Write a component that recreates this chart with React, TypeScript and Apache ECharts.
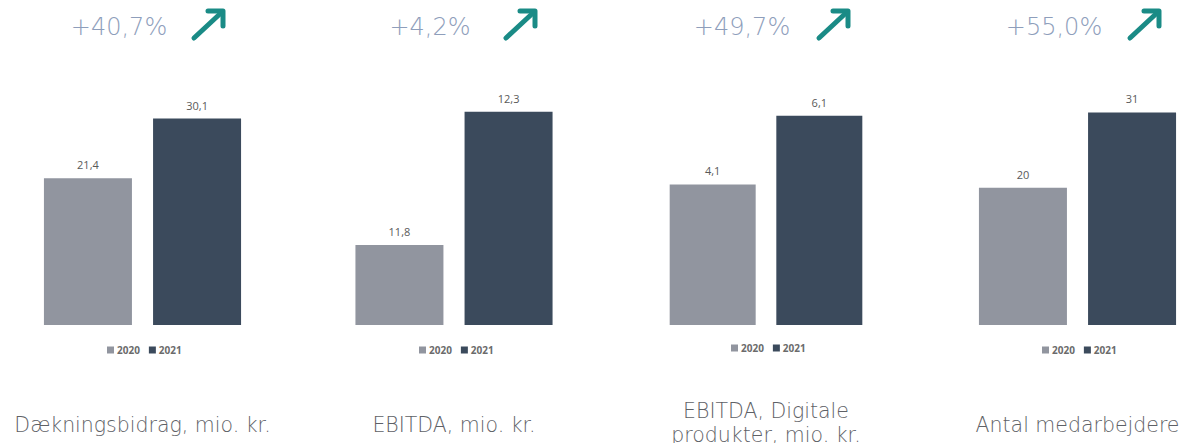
import React, { useEffect, useRef } from "react";
import * as echarts from "echarts";

const years = ["2020", "2021"];
const panelTitles = [
  "Dækningsbidrag, mio. kr.",
  "EBITDA, mio. kr.",
  "EBITDA, Digitale\nprodukter, mio. kr.",
  "Antal medarbejdere",
];
const changeLabels = ["+40,7%", "+4,2%", "+49,7%", "+55,0%"];
const values2020 = [21.4, 11.8, 4.1, 20];
const values2021 = [30.1, 12.3, 6.1, 31];
const axisMin = [0, 11.5, 0, 0];
const axisMax = [35, 12.4, 7, 35];

const panelCenters = [142.5, 454, 766, 1077.5];
const barWidths = [88, 88, 86, 88];
const pctCenters = [119, 430, 742, 1054];
const arrowLeft = [193, 505, 818, 1129];
const legendLeft = [107, 419, 731, 1042];
const legendTop = [345, 345, 343, 345];

const COLOR_2020 = "#91959F";
const COLOR_2021 = "#3B4A5C";
const TEAL = "#1A8B86";
const PCT_COLOR = "#8E9EBB";
const TEXT_COLOR = "#5E6166";
const LIGHT_FONT = "'DejaVu Sans', sans-serif";

export default function App() {
  const ref = useRef<HTMLDivElement>(null);

  useEffect(() => {
    if (!ref.current) return;
    const chart = echarts.init(ref.current, undefined, { renderer: "svg" });

    const fmt = (p: any) => String(p.value).replace(".", ",");

    const grids = panelCenters.map((c) => ({
      left: c - 110,
      width: 220,
      top: 85,
      height: 240,
    }));
    const xAxes = panelCenters.map((_, i) => ({
      type: "category",
      gridIndex: i,
      data: [""],
      show: false,
    }));
    const yAxes = panelCenters.map((_, i) => ({
      type: "value",
      gridIndex: i,
      min: axisMin[i],
      max: axisMax[i],
      show: false,
      splitLine: { show: false },
    }));

    const series: any[] = [];
    panelCenters.forEach((_, i) => {
      [values2020, values2021].forEach((vals, k) => {
        series.push({
          type: "bar",
          name: years[k],
          xAxisIndex: i,
          yAxisIndex: i,
          data: [vals[i]],
          barWidth: barWidths[i],
          barGap: "24%",
          itemStyle: { color: k === 0 ? COLOR_2020 : COLOR_2021 },
          label: {
            show: true,
            position: "top",
            distance: 8,
            formatter: fmt,
            fontSize: 11,
            color: "#595959",
            fontFamily: "'Open Sans', sans-serif",
          },
        });
      });
    });

    const legends = panelCenters.map((_, i) => ({
      data: years,
      left: legendLeft[i],
      top: legendTop[i],
      icon: "rect",
      itemWidth: 7,
      itemHeight: 7,
      itemGap: 9,
      padding: 0,
      textStyle: {
        fontSize: 10,
        color: "#6B6B6B",
        fontWeight: "bold",
        fontFamily: "'Open Sans', sans-serif",
        padding: [0, 0, 0, -2],
      },
    }));

    const graphics: any[] = [];
    panelCenters.forEach((c, i) => {
      graphics.push({
        type: "text",
        x: pctCenters[i],
        y: 27,
        style: {
          text: changeLabels[i],
          fontSize: 24,
          fontWeight: 200,
          fontFamily: LIGHT_FONT,
          fill: PCT_COLOR,
          align: "center",
          verticalAlign: "middle",
        },
      });
      const ax = arrowLeft[i];
      graphics.push({
        type: "polyline",
        shape: { points: [[ax + 1, 38], [ax + 29, 12]] },
        style: { stroke: TEAL, lineWidth: 5, lineCap: "round", fill: null },
      });
      graphics.push({
        type: "polyline",
        shape: { points: [[ax + 15, 11], [ax + 30, 11], [ax + 30, 26]] },
        style: {
          stroke: TEAL,
          lineWidth: 5,
          lineCap: "round",
          lineJoin: "round",
          fill: null,
        },
      });
      const multi = panelTitles[i].includes("\n");
      graphics.push({
        type: "text",
        x: c,
        y: multi ? 399 : 413,
        style: {
          text: panelTitles[i],
          fontSize: 20.5,
          fontWeight: 200,
          fontFamily: LIGHT_FONT,
          fill: TEXT_COLOR,
          align: "center",
          verticalAlign: "top",
          lineHeight: 24,
        },
      });
    });

    chart.setOption({
      animation: false,
      backgroundColor: "#ffffff",
      grid: grids,
      xAxis: xAxes,
      yAxis: yAxes,
      legend: legends,
      series,
      graphic: graphics,
    });

    return () => chart.dispose();
  }, []);

  return (
    <div
      ref={ref}
      style={{ position: "absolute", left: 0, top: 0, width: 1200, height: 443 }}
    />
  );
}
